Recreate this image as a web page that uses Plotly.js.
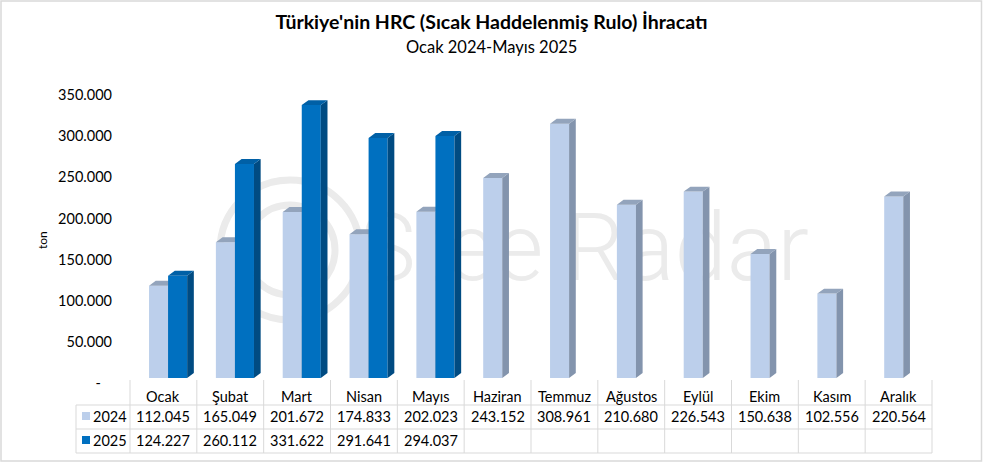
<!DOCTYPE html>
<html>
<head>
<meta charset="utf-8">
<script src="https://cdn.plot.ly/plotly-3.0.1.min.js"></script>
<style>
  html, body { margin: 0; padding: 0; background: #ffffff; }
  #chart { width: 983px; height: 463px; }
</style>
</head>
<body>
<div id="chart"></div>
<script>
// Monthly hot-rolled coil exports (tons)
const months = ['Ocak', 'Şubat', 'Mart', 'Nisan', 'Mayıs', 'Haziran', 'Temmuz', 'Ağustos', 'Eylül', 'Ekim', 'Kasım', 'Aralık'];
const exports2024 = [112045, 165049, 201672, 174833, 202023, 243152, 308961, 210680, 226543, 150638, 102556, 220564];
const exports2025 = [124227, 260112, 331622, 291641, 294037];
const seriesNames = ['2024', '2025'];
const yTicks = [0, 50000, 100000, 150000, 200000, 250000, 300000, 350000];

const FONT = 'Lato, "Open Sans", sans-serif';
const W = 983, H = 463;
const M = { l: 130, r: 51, t: 90, b: 85 };
const PW = W - M.l - M.r, PH = H - M.t - M.b;
const Y_MAX = 350000;

// pixel -> paper helpers for the table and frame
const px = x => (x - M.l) / PW;
const py = y => (H - M.b - y) / PH;

// thousands separator used in Turkish number formatting
const fmt = v => String(v).replace(/\B(?=(\d{3})+(?!\d))/g, '.');

// 3D column geometry (in axis units)
const BAR_W = 0.285;
const DX = 0.1;      // depth to the right
const DY = 6000;     // depth upwards

function faces(values, offset) {
  const front = { x: [], y: [] }, side = { x: [], y: [] }, top = { x: [], y: [] };
  values.forEach((v, i) => {
    const xl = i + offset, xr = xl + BAR_W;
    front.x.push(xl, xl, xr, xr, xl, null);
    front.y.push(0, v, v, 0, 0, null);
    side.x.push(xr, xr + DX, xr + DX, xr, xr, null);
    side.y.push(0, DY, v + DY, v, 0, null);
    top.x.push(xl, xl + DX, xr + DX, xr, xl, null);
    top.y.push(v, v + DY, v + DY, v, v, null);
  });
  return { front, side, top };
}

function poly(p, color, name) {
  return {
    type: 'scatter', mode: 'lines', x: p.x, y: p.y, fill: 'toself',
    fillcolor: color, line: { width: 0, color: color }, hoverinfo: 'skip',
    showlegend: false, name: name
  };
}

const colors = {
  '2024': { front: '#BCCFEB', side: '#8394AD', top: '#93A4BC' },
  '2025': { front: '#0070C0', side: '#004B82', top: '#0060A6' }
};

const f24 = faces(exports2024, -0.215);
const f25 = faces(exports2025, 0.07);

const data = [
  {
    type: 'scatter', mode: 'text', x: [6.3], y: [148000], text: ['SteelRadar'],
    textfont: { family: 'Roboto, Lato, sans-serif', size: 94, color: '#EBEBEB', weight: 300 },
    hoverinfo: 'skip', showlegend: false
  },
  poly(f24.front, colors['2024'].front, seriesNames[0]),
  poly(f24.side, colors['2024'].side, seriesNames[0]),
  poly(f24.top, colors['2024'].top, seriesNames[0]),
  poly(f25.front, colors['2025'].front, seriesNames[1]),
  poly(f25.side, colors['2025'].side, seriesNames[1]),
  poly(f25.top, colors['2025'].top, seriesNames[1])
];

const GRID = '#D9D9D9';
const shapes = [];
const annotations = [];

// watermark rings
shapes.push({ type: 'circle', xref: 'paper', yref: 'paper', layer: 'below',
  x0: px(220), x1: px(360), y0: py(320), y1: py(180), line: { color: '#EBEBEB', width: 7 } });
shapes.push({ type: 'circle', xref: 'paper', yref: 'paper', layer: 'below',
  x0: px(245), x1: px(335), y0: py(295), y1: py(205), line: { color: '#EBEBEB', width: 7 } });

// outer frame
shapes.push({ type: 'rect', xref: 'paper', yref: 'paper',
  x0: px(1), x1: px(981.5), y0: py(461), y1: py(1), line: { color: '#D9D9D9', width: 1.5 } });

// data table grid
const colW = PW / months.length;
const tableTop = 380, r1 = 405, r2 = 429, r3 = 453, legendLeft = 76;
[r1, r2, r3].forEach(y => shapes.push({ type: 'line', xref: 'paper', yref: 'paper',
  x0: px(legendLeft), x1: px(M.l + PW), y0: py(y), y1: py(y), line: { color: GRID, width: 1 } }));
for (let k = 0; k <= months.length; k++) {
  const x = M.l + k * colW;
  shapes.push({ type: 'line', xref: 'paper', yref: 'paper',
    x0: px(x), x1: px(x), y0: py(tableTop), y1: py(r3), line: { color: GRID, width: 1 } });
}
shapes.push({ type: 'line', xref: 'paper', yref: 'paper',
  x0: px(legendLeft), x1: px(legendLeft), y0: py(r1), y1: py(r3), line: { color: GRID, width: 1 } });

// legend keys in the table
[[416, colors['2024'].front], [440, colors['2025'].front]].forEach(([y, c]) => shapes.push({
  type: 'rect', xref: 'paper', yref: 'paper', x0: px(82), x1: px(90), y0: py(y + 4), y1: py(y - 4),
  fillcolor: c, line: { width: 0 } }));

const cellFont = { family: FONT, size: 14.5, color: '#000000' };
months.forEach((m, i) => {
  const cx = px(M.l + (i + 0.5) * colW);
  annotations.push({ xref: 'paper', yref: 'paper', x: cx, y: py(396), text: m, showarrow: false, font: cellFont, xanchor: 'center', yanchor: 'middle' });
  annotations.push({ xref: 'paper', yref: 'paper', x: cx, y: py(416.5), text: fmt(exports2024[i]), showarrow: false, font: cellFont, xanchor: 'center', yanchor: 'middle' });
  if (i < exports2025.length) {
    annotations.push({ xref: 'paper', yref: 'paper', x: cx, y: py(440.5), text: fmt(exports2025[i]), showarrow: false, font: cellFont, xanchor: 'center', yanchor: 'middle' });
  }
});
annotations.push({ xref: 'paper', yref: 'paper', x: px(110), y: py(416.5), text: seriesNames[0], showarrow: false, font: cellFont, xanchor: 'center', yanchor: 'middle' });
annotations.push({ xref: 'paper', yref: 'paper', x: px(110), y: py(440.5), text: seriesNames[1], showarrow: false, font: cellFont, xanchor: 'center', yanchor: 'middle' });

// subtitle and axis unit
annotations.push({ xref: 'paper', yref: 'paper', x: px(491.5), y: py(47), text: 'Ocak 2024-Mayıs 2025', showarrow: false,
  font: { family: FONT, size: 16.5, color: '#000000' }, xanchor: 'center', yanchor: 'middle' });
annotations.push({ xref: 'paper', yref: 'paper', x: px(43), y: py(240), text: 'ton', textangle: -90, showarrow: false,
  font: { family: FONT, size: 12, color: '#000000' }, xanchor: 'center', yanchor: 'middle' });

const layout = {
  width: W, height: H,
  margin: M,
  paper_bgcolor: '#ffffff', plot_bgcolor: 'rgba(0,0,0,0)',
  showlegend: false,
  title: {
    text: "<b>Türkiye'nin HRC (Sıcak Haddelenmiş Rulo) İhracatı</b>",
    font: { family: FONT, size: 19.5, color: '#000000' },
    x: 0.5, xref: 'container', xanchor: 'center',
    y: 1 - 22 / H, yref: 'container', yanchor: 'middle'
  },
  xaxis: {
    range: [-0.5, months.length - 0.5], showgrid: false, zeroline: false,
    showticklabels: false, ticks: '', showline: false, fixedrange: true
  },
  yaxis: {
    range: [0, Y_MAX], showgrid: false, zeroline: false, showline: false,
    tickvals: yTicks, ticktext: yTicks.map(v => v === 0 ? '-\u00A0\u00A0\u00A0' : fmt(v)),
    ticks: '', ticklabelstandoff: 17, ticklabelshift: 5,
    tickfont: { family: FONT, size: 14.5, color: '#000000' }, fixedrange: true
  },
  shapes: shapes,
  annotations: annotations
};

Plotly.newPlot('chart', data, layout, { staticPlot: true, displayModeBar: false });
</script>
</body>
</html>
